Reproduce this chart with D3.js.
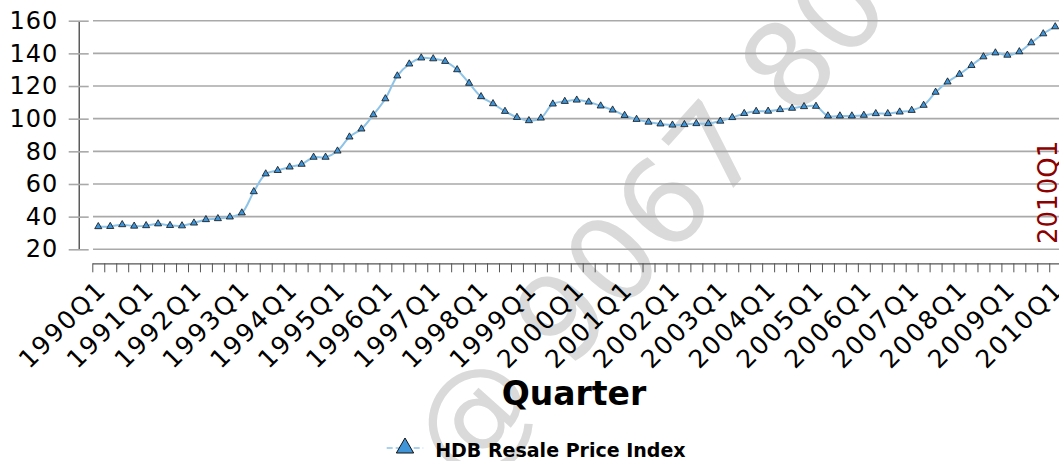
<!DOCTYPE html>
<html>
<head>
<meta charset="utf-8">
<script src="https://cdn.jsdelivr.net/npm/d3@7/dist/d3.min.js"></script>
<style>
  body { margin: 0; background: #ffffff; }
  svg { display: block; font-family: "DejaVu Sans", sans-serif; }
</style>
</head>
<body>
<div class="chart"></div>
<script>
"use strict";

// Categories (one line per year)
var quarters = [
    "1990Q1", "1990Q2", "1990Q3", "1990Q4",
    "1991Q1", "1991Q2", "1991Q3", "1991Q4",
    "1992Q1", "1992Q2", "1992Q3", "1992Q4",
    "1993Q1", "1993Q2", "1993Q3", "1993Q4",
    "1994Q1", "1994Q2", "1994Q3", "1994Q4",
    "1995Q1", "1995Q2", "1995Q3", "1995Q4",
    "1996Q1", "1996Q2", "1996Q3", "1996Q4",
    "1997Q1", "1997Q2", "1997Q3", "1997Q4",
    "1998Q1", "1998Q2", "1998Q3", "1998Q4",
    "1999Q1", "1999Q2", "1999Q3", "1999Q4",
    "2000Q1", "2000Q2", "2000Q3", "2000Q4",
    "2001Q1", "2001Q2", "2001Q3", "2001Q4",
    "2002Q1", "2002Q2", "2002Q3", "2002Q4",
    "2003Q1", "2003Q2", "2003Q3", "2003Q4",
    "2004Q1", "2004Q2", "2004Q3", "2004Q4",
    "2005Q1", "2005Q2", "2005Q3", "2005Q4",
    "2006Q1", "2006Q2", "2006Q3", "2006Q4",
    "2007Q1", "2007Q2", "2007Q3", "2007Q4",
    "2008Q1", "2008Q2", "2008Q3", "2008Q4",
    "2009Q1", "2009Q2", "2009Q3", "2009Q4",
    "2010Q1"
];

// HDB resale price index
var priceIndex = [
    33.9, 34.0, 35.1, 34.2,
    34.5, 35.6, 34.6, 34.4,
    36.1, 38.2, 38.8, 39.8,
    42.3, 55.3, 66.2, 68.3,
    70.4, 72.1, 76.4, 76.4,
    80.2, 88.8, 93.7, 102.4,
    112.2, 126.2, 133.5, 137.2,
    136.7, 135.1, 130.0, 121.7,
    113.5, 109.2, 104.5, 100.8,
    98.8, 100.4, 109.0, 110.6,
    111.4, 110.2, 107.8, 105.3,
    102.0, 99.6, 97.9, 96.8,
    96.1, 96.4, 97.0, 97.0,
    98.5, 100.7, 103.2, 104.5,
    104.6, 105.6, 106.4, 107.4,
    107.6, 101.7, 101.7, 101.7,
    102.1, 103.1, 103.1, 104.1,
    105.1, 108.2, 116.2, 122.5,
    127.2, 132.6, 137.9, 140.3,
    138.9, 141.0, 146.5, 152.0,
    156.3
];

// Tick labels
var yTicks = [20, 40, 60, 80, 100, 120, 140, 160];
var xLabels = quarters.filter(function (q) { return q.slice(4) === "Q1"; });

var seriesName = "HDB Resale Price Index";
var xTitle = "Quarter";
var markerLabel = "2010Q1";
var watermark = "@ 9067 8000";

// Dimensions
var width = 1059;
var height = 461;
var plot = { left: 92.3, right: 1061.2, top: 20.7, bottom: 249.3 };
var xAxisY = 263.3;
var yAxisX = 78.7;

// Colors
var lineColor = "#8ec3e8";
var markerFill = "#3f95d8";
var gridColor = "#a9a9a9";
var axisColor = "#555555";

var svg = d3.select(".chart").append("svg")
    .attr("width", width)
    .attr("height", height);

// Watermark behind everything
svg.append("text")
    .attr("transform", "translate(464,487) rotate(-48)")
    .style("font-size", "118px")
    .style("fill", "#dadada")
    .text(watermark);

// Scales
var x = d3.scaleBand().domain(quarters).range([plot.left, plot.right]);
var xEdge = d3.scaleLinear().domain([0, quarters.length]).range([plot.left, plot.right]);
var y = d3.scaleLinear().domain([20, 160]).range([plot.bottom, plot.top]);
var cx = function (q) { return x(q) + x.bandwidth() / 2; };

// Gridlines
svg.append("g")
    .selectAll("line")
    .data(yTicks)
    .enter().append("line")
    .attr("x1", 93)
    .attr("x2", width)
    .attr("y1", function (d) { return y(d); })
    .attr("y2", function (d) { return y(d); })
    .style("stroke", gridColor)
    .style("stroke-width", 1.6);

// Y axis, ticks crossing the axis line
var yAxis = svg.append("g")
    .attr("transform", "translate(" + yAxisX + ",0)")
    .call(d3.axisLeft(y).tickValues(yTicks).tickSizeInner(10).tickSizeOuter(0).tickPadding(10.5));
yAxis.select(".domain").style("stroke", "#333333").style("stroke-width", 1.2);
yAxis.selectAll(".tick line").attr("x1", 10).attr("x2", -10)
    .style("stroke", gridColor).style("stroke-width", 1.6);
yAxis.selectAll(".tick text")
    .style("font-family", "DejaVu Sans")
    .style("font-size", "24px")
    .style("letter-spacing", "1px")
    .style("fill", "#000");

// X axis: tick marks at the category edges
var xAxis = svg.append("g")
    .attr("transform", "translate(0," + xAxisY + ")")
    .call(d3.axisBottom(xEdge).tickValues(d3.range(quarters.length + 1)).tickSizeInner(9).tickSizeOuter(0).tickFormat(""));
xAxis.select(".domain").style("stroke", axisColor).style("stroke-width", 1.2);
xAxis.selectAll(".tick line").style("stroke", axisColor);

// X tick labels, one per year
var xLabelAxis = svg.append("g")
    .attr("transform", "translate(0," + xAxisY + ")")
    .call(d3.axisBottom(x).tickValues(xLabels).tickSize(0).tickPadding(0));
xLabelAxis.select(".domain").remove();
xLabelAxis.selectAll(".tick text")
    .attr("y", 0)
    .attr("dy", "0.72em")
    .attr("text-anchor", "end")
    .attr("transform", "translate(-3,15) rotate(-45)")
    .style("font-family", "DejaVu Sans")
    .style("font-size", "25px")
    .style("letter-spacing", "2px")
    .style("fill", "#000");

// The series line
var valueLine = d3.line()
    .x(function (d, i) { return cx(quarters[i]); })
    .y(function (d) { return y(d); })
    .curve(d3.curveCatmullRom);

svg.append("path")
    .datum(priceIndex)
    .attr("d", valueLine)
    .style("fill", "none")
    .style("stroke", lineColor)
    .style("stroke-width", 2);

// Triangle markers
var tri = d3.symbol().type(d3.symbolTriangle).size(22);
svg.append("g")
    .selectAll("path")
    .data(priceIndex)
    .enter().append("path")
    .attr("d", tri)
    .attr("transform", function (d, i) { return "translate(" + cx(quarters[i]) + "," + y(d) + ")"; })
    .style("fill", markerFill)
    .style("stroke", "#111")
    .style("stroke-width", 0.8);

// Category marker label
svg.append("text")
    .attr("transform", "translate(" + (cx(markerLabel) + 1.5) + "," + 244 + ") rotate(-90)")
    .style("font-size", "26px")
    .style("fill", "#8b0000")
    .text(markerLabel);

// Axis title
svg.append("text")
    .attr("x", 574)
    .attr("y", 405)
    .attr("text-anchor", "middle")
    .style("font-size", "33px")
    .style("font-weight", "bold")
    .style("fill", "#000")
    .text(xTitle);

// Legend
var legend = svg.append("g").attr("transform", "translate(386.7,448)");
legend.append("line")
    .attr("x1", 0).attr("x2", 36.5)
    .style("stroke", lineColor)
    .style("stroke-width", 1.5)
    .style("stroke-dasharray", "6,3");
legend.append("path")
    .attr("d", d3.symbol().type(d3.symbolTriangle).size(130))
    .attr("transform", "translate(18.3,0)")
    .style("fill", markerFill)
    .style("stroke", "#111")
    .style("stroke-width", 1);
legend.append("text")
    .attr("x", 48.5)
    .attr("y", 8.7)
    .style("font-size", "19px")
    .style("font-weight", "bold")
    .style("fill", "#000")
    .text(seriesName);
</script>
</body>
</html>
